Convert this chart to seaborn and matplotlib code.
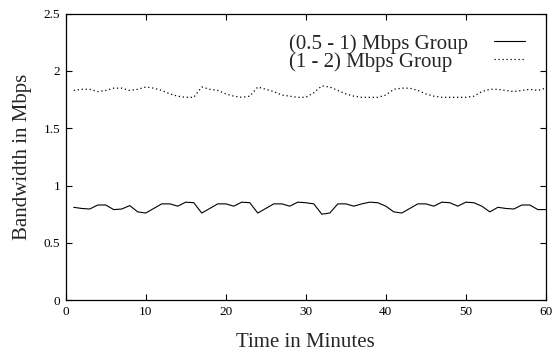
import numpy as np
import pandas as pd
import matplotlib
matplotlib.use("Agg")
import matplotlib.pyplot as plt
import seaborn as sns

# Minutes 1..60
minutes = list(range(1, 61))

# (0.5 - 1) Mbps group
low_group = [0.81, 0.80, 0.795, 0.83, 0.83, 0.79, 0.795, 0.825, 0.77, 0.76,
             0.80, 0.84, 0.84, 0.82, 0.855, 0.85, 0.76, 0.80, 0.84, 0.84,
             0.82, 0.855, 0.85, 0.76, 0.80, 0.84, 0.84, 0.82, 0.855, 0.85,
             0.84, 0.75, 0.76, 0.84, 0.84, 0.82, 0.84, 0.855, 0.85, 0.82,
             0.77, 0.76, 0.80, 0.84, 0.84, 0.82, 0.855, 0.85, 0.82, 0.855,
             0.85, 0.82, 0.77, 0.81, 0.80, 0.795, 0.83, 0.83, 0.79, 0.79]

# (1 - 2) Mbps group
high_group = [1.83, 1.84, 1.84, 1.82, 1.83, 1.85, 1.85, 1.83, 1.84, 1.86,
              1.85, 1.83, 1.80, 1.78, 1.77, 1.77, 1.86, 1.84, 1.83, 1.80,
              1.78, 1.77, 1.78, 1.86, 1.84, 1.82, 1.79, 1.78, 1.77, 1.77,
              1.81, 1.87, 1.86, 1.83, 1.80, 1.78, 1.77, 1.77, 1.77, 1.79,
              1.84, 1.85, 1.85, 1.83, 1.80, 1.78, 1.77, 1.77, 1.77, 1.77,
              1.78, 1.82, 1.84, 1.84, 1.83, 1.82, 1.83, 1.84, 1.83, 1.85]

labels = ["(0.5 - 1) Mbps Group", "(1 - 2) Mbps Group"]
x_ticks = [0, 10, 20, 30, 40, 50, 60]
y_ticks = [0, 0.5, 1, 1.5, 2, 2.5]

sns.set_style("ticks")
plt.rcParams['font.family'] = ['Liberation Serif', 'DejaVu Serif']
plt.rcParams['xtick.direction'] = 'in'
plt.rcParams['ytick.direction'] = 'in'

fig = plt.figure(figsize=(5.57, 3.51), dpi=100)
ax = fig.add_axes([0.118, 0.145, 0.862, 0.816])

sns.lineplot(x=minutes, y=low_group, ax=ax, color='black', linewidth=0.8,
             label=labels[0])
sns.lineplot(x=minutes, y=high_group, ax=ax, color='black', linewidth=0.9,
             linestyle=(0, (1, 2.2)), label=labels[1])

ax.set_xlim(0, 60)
ax.set_ylim(0, 2.5)
ax.set_xticks(x_ticks)
ax.set_yticks(y_ticks)
ax.set_xticklabels([str(t) for t in x_ticks])
ax.set_yticklabels(['0', '0.5', '1', '1.5', '2', '2.5'])
ax.tick_params(top=True, right=True, length=4, width=0.8, labelsize=9.5,
               pad=4, colors='black')
for s in ax.spines.values():
    s.set_linewidth(0.9)
    s.set_color('black')

ax.set_xlabel("Time in Minutes", fontsize=15, labelpad=11)
ax.set_ylabel("Bandwidth in Mbps", fontsize=15, labelpad=8)

# gnuplot-style key: labels left-aligned, line samples in a column on the right
handles, _ = ax.get_legend_handles_labels()
ax.get_legend().remove()
leg_common = dict(frameon=False, fontsize=15, labelspacing=-0.09,
                  borderpad=0, borderaxespad=0)
text_leg = ax.legend(handles, labels, loc='upper left',
                     bbox_to_anchor=(0.466, 0.929), handlelength=0,
                     handletextpad=0, **leg_common)
for h in text_leg.legend_handles:
    h.set_visible(False)
ax.add_artist(text_leg)
ax.legend(handles, [' ', ' '], loc='upper right',
          bbox_to_anchor=(0.968, 0.929), handlelength=1.5, handletextpad=0,
          markerfirst=True, **leg_common)

fig.savefig("out.png", dpi=100)
